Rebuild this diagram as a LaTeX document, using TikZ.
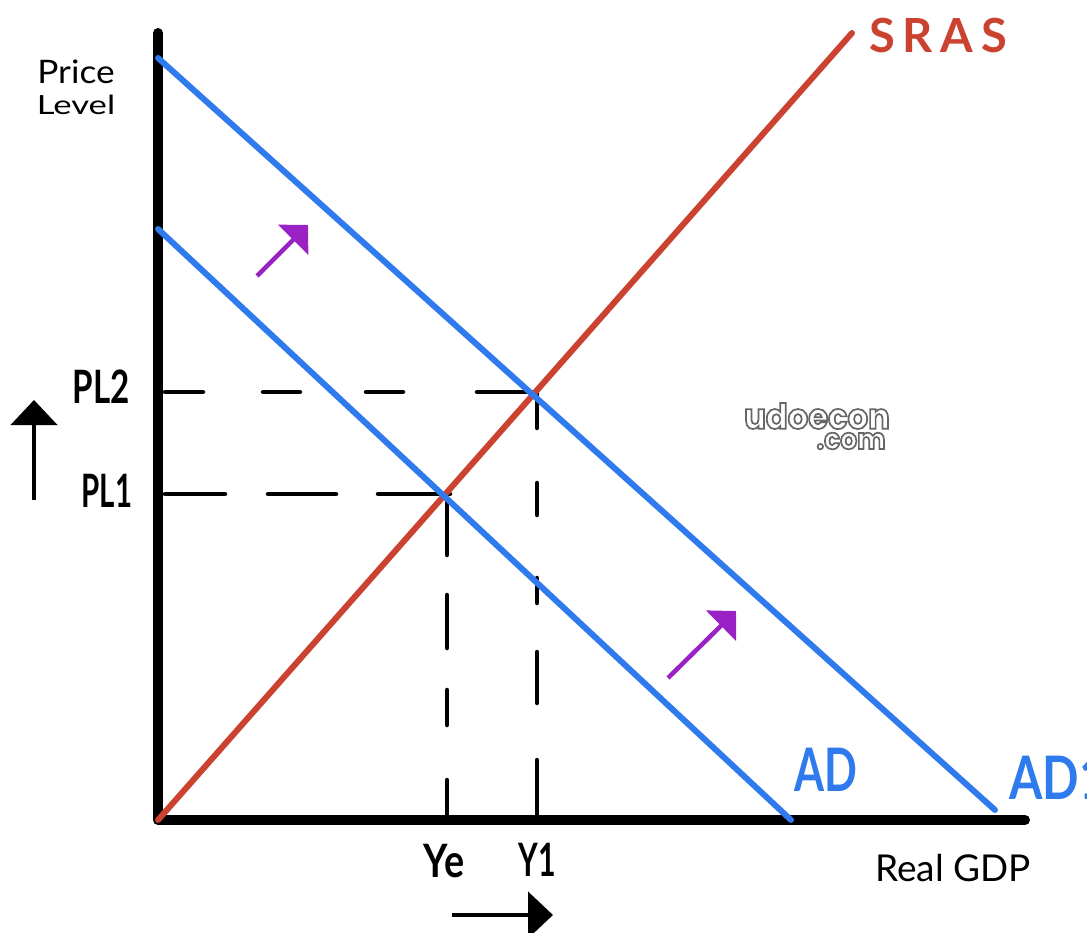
\documentclass[tikz,border=0pt]{standalone}
\usepackage{fontspec}
\setmainfont{Lato}
\newfontfamily\wmfont{Poppins}[FakeStretch=0.92]
\usetikzlibrary{arrows.meta}
\definecolor{srasred}{HTML}{CB4230}
\definecolor{adblue}{HTML}{2F7BEE}
\definecolor{shiftpurple}{HTML}{9A22C4}
\newcommand{\wmoutline}[1]{\special{pdf:code q 2 Tr 1.7 w 0.4 G 1 g}\wmfont\bfseries #1\special{pdf:code Q}}
\tikzset{
  axisline/.style={line width=10pt,line cap=round,line join=round,black},
  curvered/.style={line width=6pt,line cap=round,srasred},
  curveblue/.style={line width=6pt,line cap=round,adblue},
  guide/.style={line width=4.5pt,line cap=round,black},
  moveblack/.style={line width=4.5pt,black,-{Triangle[width=46pt,length=25pt]}},
  shiftarrow/.style={line width=4.5pt,shiftpurple,-{Triangle[width=42pt,length=21pt]}},
  handsmall/.style={black,inner sep=0pt},
  handbold/.style={black,font=\bfseries\fontsize{46}{46}\selectfont,inner sep=0pt},
  handblue/.style={adblue,font=\bfseries\fontsize{60}{60}\selectfont,inner sep=0pt},
}
\begin{document}
\begin{tikzpicture}[x=1pt,y=-1pt]
\clip (0,0) rectangle (1087,933);
\fill[white] (0,0) rectangle (1087,933);
% named points
\coordinate (top) at (158,33);
\coordinate (origin) at (158,820);
\coordinate (xend) at (1025,820);
\coordinate (srasend) at (852,33);
\coordinate (adstart) at (158,229);
\coordinate (adend) at (791,820);
\coordinate (adonestart) at (158,58);
\coordinate (adoneend) at (995,810);
\coordinate (pltwo) at (165,392);
\coordinate (e2) at (538,392);
\coordinate (plone) at (165,494);
\coordinate (e1) at (452,494);
\coordinate (yebase) at (447,820);
\coordinate (yonebase) at (537,820);
\coordinate (yetop) at (447,494);
\coordinate (yonetop) at (537,392);
\coordinate (upA) at (34,500);
\coordinate (upB) at (34,400);
\coordinate (rightA) at (452,915);
\coordinate (rightB) at (553,915);
\coordinate (pA1) at (257,276);
\coordinate (pA2) at (308,225);
\coordinate (pB1) at (668,678);
\coordinate (pB2) at (736,611);
% dashed guides
\draw[guide,dash pattern=on 38pt off 60pt on 37pt off 66pt on 37pt off 74pt on 60pt] (pltwo) -- (e2);
\draw[guide,dash pattern=on 60pt off 43pt on 68pt off 42pt on 72pt] (plone) -- (e1);
\draw[guide,dash pattern=on 61pt off 40pt on 53pt off 42pt on 35pt off 55pt on 60pt] (yetop) -- (yebase);
\draw[guide,dash pattern=on 36pt off 55pt on 32pt off 63pt on 25pt off 49pt on 51pt off 57pt on 60pt] (yonetop) -- (yonebase);
% axes
\draw[axisline] (top) -- (origin) -- (xend);
% curves
\draw[curvered] (origin) -- (srasend);
\draw[curveblue] (adstart) -- (adend);
\draw[curveblue] (adonestart) -- (adoneend);
% arrows
\draw[moveblack] (upA) -- (upB);
\draw[moveblack] (rightA) -- (rightB);
\draw[shiftarrow] (pA1) -- (pA2);
\draw[shiftarrow] (pB1) -- (pB2);
% labels
\node[handsmall,font=\fontsize{36}{36}\selectfont] (price) at (76,72) {\scalebox{.98}[.9]{Price}};
\node[handsmall,font=\fontsize{33}{33}\selectfont] (level) at (76,105) {\scalebox{1.05}[.8]{Level}};
\node[handbold] (ptwo) at (101,387) {\scalebox{.72}[1]{PL2}};
\node[handbold] (pone) at (107,491) {\scalebox{.64}[1]{PL1}};
\node[handbold] (ye) at (444,861) {\scalebox{.82}[1]{Ye}};
\node[handbold] (yone) at (537,860) {\scalebox{.66}[1]{Y1}};
\node[handsmall,font=\fontsize{37}{37}\selectfont] (gdp) at (953,868) {Real GDP};
\node[srasred,inner sep=0pt,font=\bfseries\fontsize{47}{47}\selectfont] (sras) at (938,36) {S\,R\,A\,S};
\node[handblue] (ad) at (826,770) {\scalebox{.72}[1]{AD}};
\node[handblue,anchor=west] (adone) at (1009,778) {\scalebox{.8}[1]{AD1}};
\node[inner sep=0pt,font=\fontsize{35}{35}\selectfont] (wm) at (817,416) {\wmoutline{udoecon}};
\node[inner sep=0pt,font=\fontsize{29}{29}\selectfont] (wmb) at (851,441) {\wmoutline{.com}};
\end{tikzpicture}
\end{document}
